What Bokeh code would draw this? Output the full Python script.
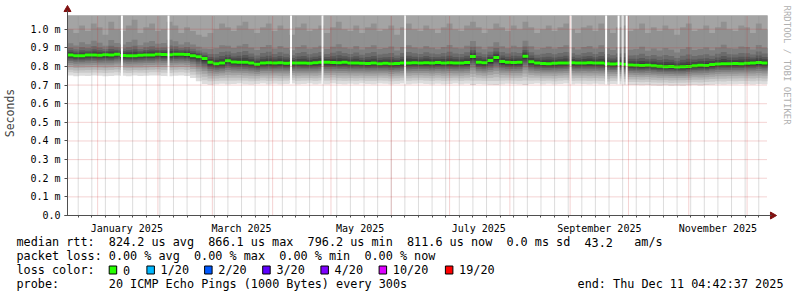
import numpy as np
import pandas as pd
from datetime import datetime, timedelta
from bokeh.plotting import figure
from bokeh.models import Range1d, FixedTicker, PrintfTickFormatter
from bokeh.core.properties import value
from bokeh.embed import file_html
from bokeh.resources import INLINE

FONT = "DejaVu Sans Mono"

# ---------------- data ----------------
t_start = datetime(2024, 12, 16, 12, 0)
t_end = datetime(2025, 12, 11, 12, 0)
step_days = 3

median_ms = [
    0.862, 0.858, 0.857, 0.861, 0.862, 0.860, 0.863, 0.861, 0.866, 0.859,
    0.858, 0.857, 0.860, 0.862, 0.861, 0.866, 0.864, 0.863, 0.865, 0.866,
    0.864, 0.858, 0.852, 0.842, 0.822, 0.815, 0.818, 0.830, 0.824, 0.822,
    0.822, 0.819, 0.812, 0.818, 0.820, 0.818, 0.820, 0.817, 0.818, 0.819,
    0.818, 0.817, 0.820, 0.822, 0.823, 0.821, 0.820, 0.822, 0.818, 0.819,
    0.817, 0.816, 0.818, 0.815, 0.817, 0.814, 0.816, 0.818, 0.819, 0.820,
    0.819, 0.820, 0.818, 0.821, 0.819, 0.820, 0.818, 0.819, 0.821, 0.853,
    0.823, 0.820, 0.832, 0.848, 0.826, 0.822, 0.821, 0.823, 0.855, 0.825,
    0.818, 0.816, 0.815, 0.817, 0.818, 0.819, 0.820, 0.818, 0.819, 0.820,
    0.819, 0.818, 0.815, 0.813, 0.814, 0.812, 0.808, 0.806, 0.805, 0.807,
    0.804, 0.801, 0.799, 0.800, 0.797, 0.798, 0.800, 0.804, 0.806, 0.805,
    0.810, 0.813, 0.815, 0.814, 0.816, 0.815, 0.817, 0.819, 0.821, 0.818,
]

ping_lo_ms = [
    0.752, 0.748, 0.750, 0.749, 0.751, 0.750, 0.747, 0.749, 0.752, 0.750,
    0.748, 0.751, 0.749, 0.750, 0.752, 0.751, 0.749, 0.748, 0.750, 0.752,
    0.749, 0.738, 0.720, 0.706, 0.702, 0.705, 0.707, 0.704, 0.706, 0.708,
    0.705, 0.703, 0.706, 0.708, 0.705, 0.707, 0.704, 0.706, 0.709, 0.705,
    0.706, 0.708, 0.704, 0.707, 0.705, 0.709, 0.706, 0.704, 0.707, 0.705,
    0.708, 0.706, 0.705, 0.709, 0.707, 0.704, 0.706, 0.708, 0.705, 0.707,
    0.709, 0.706, 0.705, 0.707, 0.704, 0.706, 0.708, 0.705, 0.707, 0.700,
    0.706, 0.704, 0.702, 0.700, 0.705, 0.707, 0.706, 0.704, 0.701, 0.706,
    0.708, 0.705, 0.707, 0.704, 0.706, 0.709, 0.705, 0.707, 0.706, 0.704,
    0.707, 0.705, 0.703, 0.706, 0.704, 0.702, 0.700, 0.701, 0.699, 0.700,
    0.698, 0.697, 0.699, 0.696, 0.698, 0.697, 0.699, 0.700, 0.698, 0.701,
    0.702, 0.704, 0.703, 0.705, 0.704, 0.706, 0.705, 0.703, 0.706, 0.704,
]

ping_hi_ms = [
    1.00, 0.98, 1.02, 0.99, 1.03, 1.01, 0.97, 1.04, 1.00, 0.99,
    1.02, 1.05, 0.98, 1.01, 1.03, 0.99, 1.00, 1.04, 1.02, 0.98,
    1.01, 0.99, 0.97, 0.96, 0.98, 1.00, 1.03, 1.01, 0.99, 1.02,
    1.04, 1.00, 0.98, 1.01, 1.03, 0.99, 1.02, 1.00, 0.97, 1.01,
    1.03, 0.99, 1.00, 1.02, 0.98, 1.01, 1.04, 1.00, 0.99, 1.02,
    0.98, 1.01, 1.03, 0.99, 1.00, 1.02, 0.97, 1.01, 1.03, 1.00,
    0.99, 1.02, 1.00, 0.98, 1.01, 1.03, 1.00, 0.99, 1.02, 1.04,
    1.01, 0.98, 1.00, 1.03, 1.01, 0.99, 1.02, 1.00, 1.04, 1.01,
    0.98, 1.00, 1.02, 0.99, 1.01, 1.03, 1.00, 0.98, 1.01, 1.02,
    0.99, 1.03, 1.00, 0.98, 1.01, 1.02, 0.99, 1.00, 1.03, 0.98,
    1.01, 0.99, 1.02, 1.00, 0.97, 1.01, 1.03, 0.99, 1.00, 1.02,
    0.98, 1.01, 1.04, 1.00, 0.99, 1.02, 1.01, 0.98, 1.03, 1.00,
]

gap_centers = ["2025-01-13 12:00", "2025-02-06 11:00", "2025-04-10 11:00",
               "2025-04-26 16:00", "2025-06-08 02:00", "2025-09-01 05:00",
               "2025-09-19 12:00", "2025-09-25 22:00", "2025-09-28 00:00",
               "2025-09-30 02:00"]

y_ticks = [0.0, 0.1, 0.2, 0.3, 0.4, 0.5, 0.6, 0.7, 0.8, 0.9, 1.0]
y_tick_labels = ["0.0", "0.1 m", "0.2 m", "0.3 m", "0.4 m", "0.5 m",
                 "0.6 m", "0.7 m", "0.8 m", "0.9 m", "1.0 m"]
month_label_dates = ["2025-01-16", "2025-03-16", "2025-05-16",
                     "2025-07-16", "2025-09-16", "2025-11-16"]
month_labels = ["January 2025", "March 2025", "May 2025",
                "July 2025", "September 2025", "November 2025"]

loss_labels = ["0", "1/20", "2/20", "3/20", "4/20", "10/20", "19/20"]
loss_colors = ["#26ff00", "#00b8ff", "#0059ff", "#5e00ff", "#7e00ff",
               "#dd00ff", "#ff0000"]

row1 = ["median rtt:", "824.2 us avg", "866.1 us max", "796.2 us min",
        "811.6 us now", "0.0 ms sd", "43.2", "am/s"]
row1_col = [0, 13, 27, 41, 55, 69, 80, 87]
row2 = ["packet loss:", "0.00 % avg", "0.00 % max", "0.00 % min", "0.00 % now"]
row2_col = [0, 13, 25, 37, 49]
row4 = ["probe:", "20 ICMP Echo Pings (1000 Bytes) every 300s"]
row4_col = [0, 13]
end_text = "end: Thu Dec 11 04:42:37 2025"
watermark = "RRDTOOL / TOBI OETIKER"

# ---------------- geometry ----------------
W, H = 797, 297
FL, FR, FT, FB = 67, 767, 15, 215          # plot area in canvas pixels
Y_TOP = 1.0734


def ms(t):
    return pd.Timestamp(t).value / 1e6


T0, T1 = ms(t_start), ms(t_end)
XPP = (T1 - T0) / (FR - FL)                # ms of time per pixel
YPP = Y_TOP / (FB - FT)                    # ms of rtt per pixel

p = figure(width=W, height=H, x_axis_type="datetime",
           x_range=Range1d(T0 - FL * XPP, T1 + (W - FR) * XPP),
           y_range=Range1d(-(H - FB) * YPP, Y_TOP + FT * YPP),
           extra_x_ranges={"px": Range1d(0, W)},
           extra_y_ranges={"px": Range1d(H, 0)},
           toolbar_location=None, output_backend="svg", min_border=0,
           background_fill_color="white", border_fill_color="white",
           outline_line_color=None)
p.xgrid.visible = False
p.ygrid.visible = False

n = len(median_ms)
edges = [ms(t_start + timedelta(days=step_days * i)) for i in range(n + 1)]
med = np.array(median_ms)
lo = np.array(ping_lo_ms)
hi = np.array(ping_hi_ms)


def ext(a):
    a = list(a)
    return a + [a[-1]]


# smoke: nested bands (pings k .. 21-k), outer/light first
lower_frac = [1.0, 0.85, 0.72, 0.60, 0.49, 0.39, 0.30, 0.22, 0.15, 0.09]
upper_frac = [None, None, None, None, 1.0, 0.45, 0.28, 0.18, 0.11, 0.05]
greys = [221, 202, 183, 164, 145, 126, 107, 88, 69, 50]
for k in range(10):
    bottom = med - lower_frac[k] * (med - lo)
    if upper_frac[k] is None:
        top = np.full(n, Y_TOP)
    else:
        top = np.minimum(med + upper_frac[k] * (hi - med), Y_TOP)
    g = greys[k]
    p.varea_step(x=edges, y1=ext(bottom), y2=ext(top), step_mode="after",
                 fill_color="#%02x%02x%02x" % (g, g, g))

# median, coloured by packet loss (0 everywhere)
half = 1.5 * YPP
p.varea_step(x=edges, y1=ext(med - half), y2=ext(med + half),
             step_mode="after", fill_color=loss_colors[0])

# missing data
gl = [ms(pd.Timestamp(g) - pd.Timedelta(hours=12)) for g in gap_centers]
gr = [ms(pd.Timestamp(g) + pd.Timedelta(hours=12)) for g in gap_centers]
p.quad(left=gl, right=gr, bottom=0.66, top=Y_TOP, fill_color="white",
       line_color=None)

# grid lines (drawn over the data, as rrdtool does)
week_ms = [ms(t) for t in pd.date_range("2024-12-22", "2025-12-07", freq="7D")]
month_ms = [ms(t) for t in pd.date_range("2025-01-01", "2025-12-01", freq="MS")]
p.segment(x0=week_ms, y0=0, x1=week_ms, y1=Y_TOP, line_color="#8c8c8c",
          line_alpha=0.6, line_dash="1 1", line_width=1)
p.segment(x0=month_ms, y0=0, x1=month_ms, y1=Y_TOP, line_color="#c82020",
          line_alpha=0.4, line_dash="1 1", line_width=1)
p.segment(x0=T0, y0=y_ticks[1:], x1=T1, y1=y_ticks[1:], line_color="#c82020",
          line_alpha=0.4, line_dash="1 1", line_width=1)

# axes, fixed on the plot area
AX = "#4f4f4f"
label_ms = [ms(d) for d in month_label_dates]
xa = p.xaxis[0]
xa.fixed_location = 0
xa.bounds = (T0 - 3 * XPP, T1 + 4 * XPP)
xa.ticker = FixedTicker(ticks=label_ms, minor_ticks=week_ms)
xa.major_label_overrides = {t: l for t, l in zip(label_ms, month_labels)}
xa.major_tick_line_color = None
xa.major_tick_out = 0
xa.major_tick_in = 0
xa.minor_tick_out = 2
xa.minor_tick_in = 0
xa.minor_tick_line_color = AX
xa.major_label_standoff = 5

ya = p.yaxis[0]
ya.fixed_location = T0
ya.bounds = (0, Y_TOP + 5 * YPP)
ya.ticker = FixedTicker(ticks=y_ticks)
ya.formatter = PrintfTickFormatter(format="%.1f m")
ya.major_label_overrides = {t: l for t, l in zip(y_ticks, y_tick_labels)}
ya.major_tick_out = 3
ya.major_tick_in = 0
ya.major_tick_line_color = AX
ya.minor_tick_line_color = None
ya.major_label_standoff = 4
ya.axis_label = "Seconds"
ya.axis_label_text_font = FONT
ya.axis_label_text_font_style = "normal"
ya.axis_label_text_font_size = "11.5px"
ya.axis_label_standoff = 10

for ax in (xa, ya):
    ax.axis_line_color = AX
    ax.major_label_text_font = FONT
    ax.major_label_text_font_size = "10px"
    ax.major_label_text_color = "black"

# axis arrows
ARROW = "#801010"
p.scatter(x=[FL], y=[FT - 6], marker="triangle", size=7, fill_color=ARROW,
          line_color=ARROW, x_range_name="px", y_range_name="px")
p.scatter(x=[FR + 5], y=[FB], marker="triangle", size=7, angle=-np.pi / 2,
          fill_color=ARROW, line_color=ARROW, x_range_name="px",
          y_range_name="px")

# watermark
p.text(x=[786], y=[5], text=[watermark], angle=-np.pi / 2,
       text_font=value(FONT), text_font_size="9px", text_color="#b0b0b0",
       text_baseline="middle", text_align="left",
       x_range_name="px", y_range_name="px")

# ---------------- legend block ----------------
CW = 7.1
X0 = 16
rows_y = [241.5, 255.5, 269.5, 283.5]
tx, ty, tt = [], [], []
for toks, cols, yy in ((row1, row1_col, rows_y[0]), (row2, row2_col, rows_y[1]),
                       (row4, row4_col, rows_y[3])):
    for tok, c in zip(toks, cols):
        tx.append(X0 + c * CW)
        ty.append(yy)
        tt.append(tok)
tx.append(X0); ty.append(rows_y[2]); tt.append("loss color:")

box_left = [108.7, 146.4, 204.1, 262.2, 320.4, 378.6, 444.9]
for bl, lab in zip(box_left, loss_labels):
    tx.append(bl + 13.7); ty.append(rows_y[2]); tt.append(lab)

p.text(x=tx, y=ty, text=tt, text_font=value(FONT), text_font_size="11.8px",
       text_baseline="middle", text_align="left", text_color="black",
       x_range_name="px", y_range_name="px")
p.text(x=[783], y=[rows_y[3]], text=[end_text], text_font=value(FONT),
       text_font_size="11.8px", text_baseline="middle", text_align="right",
       text_color="black", x_range_name="px", y_range_name="px")
p.quad(left=box_left, right=[b + 7.5 for b in box_left],
       top=[rows_y[2] - 4] * 7, bottom=[rows_y[2] + 4] * 7,
       fill_color=loss_colors, line_color="black", line_width=1,
       x_range_name="px", y_range_name="px")

open("out.html", "w").write(file_html(p, INLINE))
